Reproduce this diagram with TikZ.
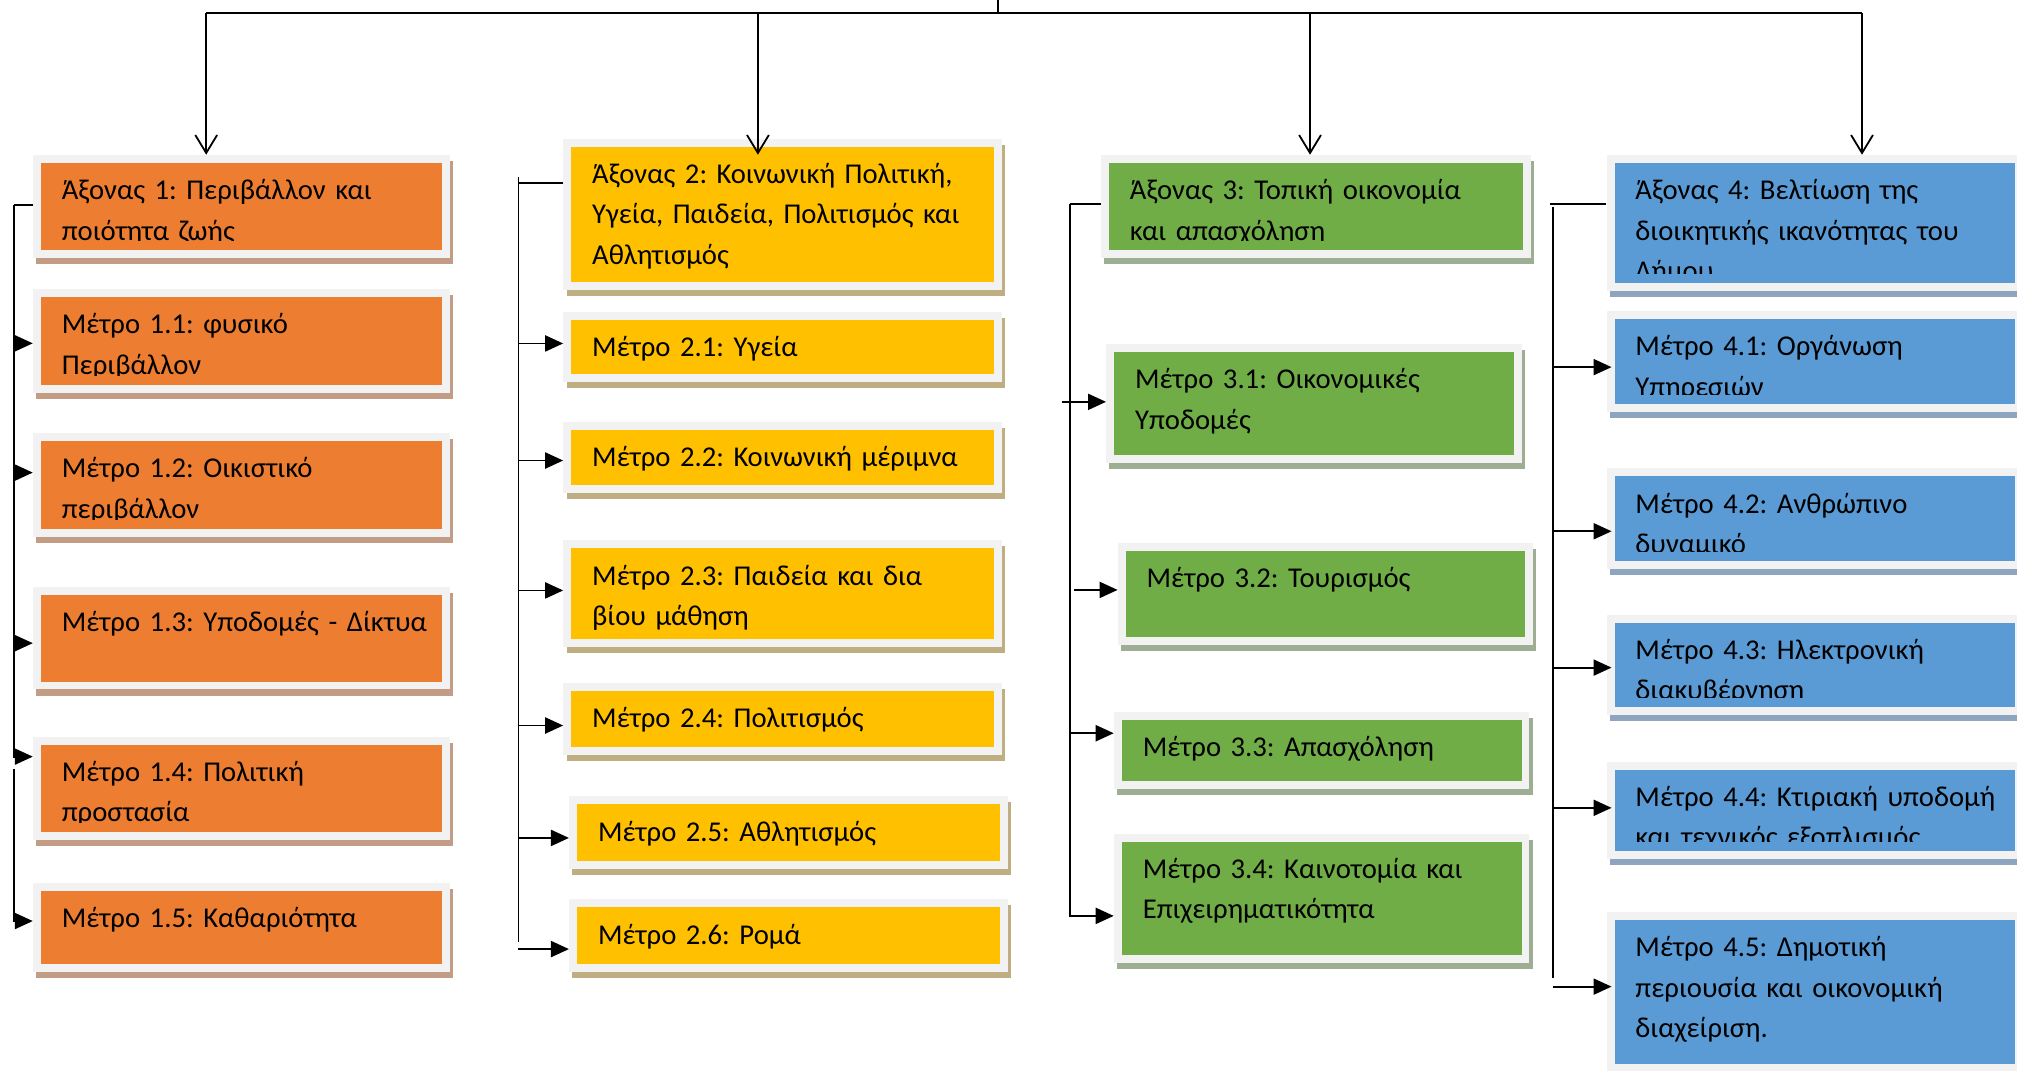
\documentclass[tikz,border=0pt]{standalone}
\usepackage{fontspec}
\setmainfont{Carlito}
\usetikzlibrary{arrows.meta, shadows}
\definecolor{framegray}{HTML}{F2F2F2}
\definecolor{ax1}{HTML}{ED7D31}
\definecolor{ax1shade}{HTML}{C29C85}
\definecolor{ax2}{HTML}{FFC000}
\definecolor{ax2shade}{HTML}{BFAE82}
\definecolor{ax3}{HTML}{70AD47}
\definecolor{ax3shade}{HTML}{9DAE92}
\definecolor{ax4}{HTML}{5B9BD5}
\definecolor{ax4shade}{HTML}{8EA5BF}
\frenchspacing

\begin{document}
\begin{tikzpicture}[x=1pt, y=-1pt,
    wire/.style={line width=1.4pt},
    feed/.style={wire, -{Triangle[length=14pt, width=12.5pt]}},
    drop/.style={wire, -{Straight Barb[length=14pt, width=17pt]}},
    boxtext/.style={anchor=north west, inner sep=0pt, minimum width=0pt, minimum height=0pt,
        text width=330pt, align=left, font=\fontsize{22.3}{31.2}\selectfont,
        execute at begin node={\rule{0pt}{24pt}}},
    measure/.style n args={4}{rectangle, inner sep=0pt, fill=framegray,
        general shadow={fill=#2, shadow xshift=2.4pt, shadow yshift=-4.7pt},
        path picture={
            \fill[#1] ([shift={(6.2pt,-6.2pt)}]path picture bounding box.north west)
                rectangle ([shift={(-6.2pt,6.2pt)}]path picture bounding box.south east);
            \clip ([shift={(6.2pt,-6.2pt)}]path picture bounding box.north west)
                rectangle ([shift={(-6.2pt,13.5pt)}]path picture bounding box.south east);
            \node[boxtext] (#3) at ([shift={(22.2pt,-10.7pt)}]path picture bounding box.north west) {#4};
        }},
    col1/.style n args={2}{measure={ax1}{ax1shade}{#1}{#2}, minimum width=324.1pt},
    col2/.style n args={2}{measure={ax2}{ax2shade}{#1}{#2}, minimum width=341pt},
    col3/.style n args={2}{measure={ax3}{ax3shade}{#1}{#2}, minimum width=323pt},
    col4/.style n args={2}{measure={ax4}{ax4shade}{#1}{#2}, minimum width=323.7pt}]
    \clip (0,0) rectangle (1568,832);

    % axis 1
    \node[col1={a1t}{Άξονας 1: Περιβάλλον και\\ποιότητα ζωής}, minimum height=80.3pt] (a1) at (187.75,160.65) {};
    \node[col1={m11t}{Μέτρο 1.1: φυσικό\\Περιβάλλον}, minimum height=80.8pt] (m11) at (187.75,265.1) {};
    \node[col1={m12t}{Μέτρο 1.2: Οικιστικό\\περιβάλλον}, minimum height=80.8pt] (m12) at (187.75,377) {};
    \node[col1={m13t}{Μέτρο 1.3: Υποδομές - Δίκτυα}, minimum height=80pt] (m13) at (187.75,496) {};
    \node[col1={m14t}{Μέτρο 1.4: Πολιτική\\προστασία}, minimum height=80.3pt] (m14) at (187.75,612.85) {};
    \node[col1={m15t}{Μέτρο 1.5: Καθαριότητα}, minimum height=69.4pt] (m15) at (187.75,720.8) {};

    % axis 2
    \node[col2={a2t}{Άξονας 2: Κοινωνική Πολιτική,\\Υγεία, Παιδεία, Πολιτισμός και\\Αθλητισμός}, minimum height=117.5pt] (a2) at (608.5,166.75) {};
    \node[col2={m21t}{Μέτρο 2.1: Υγεία}, minimum height=54.5pt] (m21) at (608.5,269.75) {};
    \node[col2={m22t}{Μέτρο 2.2: Κοινωνική μέριμνα}, minimum height=55pt] (m22) at (608.5,355.5) {};
    \node[col2={m23t}{Μέτρο 2.3: Παιδεία και δια\\βίου μάθηση}, minimum height=83pt] (m23) at (608.5,461.5) {};
    \node[col2={m24t}{Μέτρο 2.4: Πολιτισμός}, minimum height=56pt] (m24) at (608.5,559) {};
    \node[col2={m25t}{Μέτρο 2.5: Αθλητισμός}, minimum height=56.5pt] (m25) at (613,647.25) {};
    \node[col2={m26t}{Μέτρο 2.6: Ρομά}, minimum height=56.6pt] (m26) at (613,727.3) {};

    % axis 3
    \node[col3={a3t}{Άξονας 3: Τοπική οικονομία\\και απασχόληση}, minimum width=334pt, minimum height=80pt] (a3) at (1023,160.5) {};
    \node[col3={m31t}{Μέτρο 3.1: Οικονομικές\\Υποδομές}, minimum height=92.6pt] (m31) at (1021.5,313.7) {};
    \node[col3={m32t}{Μέτρο 3.2: Τουρισμός}, minimum height=79.4pt] (m32) at (1030.5,461.7) {};
    \node[col3={m33t}{Μέτρο 3.3: Απασχόληση}, minimum height=60pt] (m33) at (1027.5,583.4) {};
    \node[col3={m34t}{Μέτρο 3.4: Καινοτομία και\\Επιχειρηματικότητα}, minimum height=100.8pt] (m34) at (1027.5,698.4) {};

    % axis 4
    \node[col4={a4t}{Άξονας 4: Βελτίωση της\\διοικητικής ικανότητας του\\Δήμου}, minimum height=105.5pt] (a4) at (1410.85,173.25) {};
    \node[col4={m41t}{Μέτρο 4.1: Οργάνωση\\Υπηρεσιών}, minimum height=78.2pt] (m41) at (1410.85,280.9) {};
    \node[col4={m42t}{Μέτρο 4.2: Ανθρώπινο\\δυναμικό}, minimum height=78pt] (m42) at (1410.85,403) {};
    \node[col4={m43t}{Μέτρο 4.3: Ηλεκτρονική\\διακυβέρνηση}, minimum height=78pt] (m43) at (1410.85,517) {};
    \node[col4={m44t}{Μέτρο 4.4: Κτιριακή υποδομή\\και τεχνικός εξοπλισμός}, minimum height=76pt] (m44) at (1410.85,630) {};
    \node[col4={m45t}{Μέτρο 4.5: Δημοτική\\περιουσία και οικονομική\\διαχείριση.}, minimum height=124pt] (m45) at (1410.85,771) {};

    % top bar
    \coordinate (root) at (775.8,-5);
    \coordinate (bar) at (775.8,9.85);
    \coordinate (t1) at (160.3,9.85);
    \coordinate (t2) at (589.2,9.85);
    \coordinate (t3) at (1018.4,9.85);
    \coordinate (t4) at (1447.5,9.85);
    \draw[wire] (root) -- (bar);
    \draw[wire] (t1) -- (t4);
    \draw[drop] (t1) -- (t1 |- a1.north);
    \draw[drop] (t2) -- (t2 |- a1.north);
    \draw[drop] (t3) -- (t3 |- a3.north);
    \draw[drop] (t4) -- (t4 |- a4.north);

    % trunk 1
    \coordinate (k1) at (10.9,159.4);
    \coordinate (k1e) at (10.9,588.2);
    \coordinate (k1b) at (10.9,597.8);
    \coordinate (k1f) at (10.9,716);
    \coordinate (c11) at (10.9,266.9);
    \coordinate (c12) at (10.9,367.4);
    \coordinate (c13) at (10.9,500);
    \draw[wire] (k1 -| a1.west) -- (k1);
    \draw[feed] (k1) -- (k1e) -- (k1e -| m14.west);
    \draw[feed] (k1b) -- (k1f) -- (k1f -| m15.west);
    \draw[feed] (c11) -- (c11 -| m11.west);
    \draw[feed] (c12) -- (c12 -| m12.west);
    \draw[feed] (c13) -- (c13 -| m13.west);

    % trunk 2
    \coordinate (k2a) at (403,137.6);
    \coordinate (k2) at (403,142);
    \coordinate (k2e) at (403,732.5);
    \coordinate (c21) at (403,267);
    \coordinate (c22) at (403,358);
    \coordinate (c23) at (403,459);
    \coordinate (c24) at (403,564);
    \coordinate (c25) at (403,651.4);
    \coordinate (c26) at (403,737.8);
    \draw[wire] (k2 -| a2.west) -- (k2);
    \draw[wire] (k2a) -- (k2e);
    \foreach \m in {21,22,23,24,25,26}
        \draw[feed] (c\m) -- (c\m -| m\m.west);

    % trunk 3
    \coordinate (k3) at (832,158.5);
    \coordinate (k3e) at (832,712);
    \coordinate (c31) at (825.5,312.4);
    \coordinate (c32) at (835,458.6);
    \coordinate (c33) at (832,570);
    \draw[wire] (k3 -| a3.west) -- (k3);
    \draw[feed] (k3) -- (k3e) -- (k3e -| m34.west);
    \foreach \m in {31,32,33}
        \draw[feed] (c\m) -- (c\m -| m\m.west);

    % trunk 4
    \coordinate (k4a) at (1205,158.6);
    \coordinate (k4) at (1207,160.8);
    \coordinate (k4e) at (1207,760);
    \coordinate (c41) at (1207,285.4);
    \coordinate (c42) at (1207,413);
    \coordinate (c43) at (1207,519);
    \coordinate (c44) at (1207,628);
    \coordinate (c45) at (1207,767);
    \draw[wire] (k4a -| a4.west) -- (k4a);
    \draw[wire] (k4) -- (k4e);
    \foreach \m in {41,42,43,44,45}
        \draw[feed] (c\m) -- ([xshift=4pt]c\m -| m\m.west);
\end{tikzpicture}
\end{document}
